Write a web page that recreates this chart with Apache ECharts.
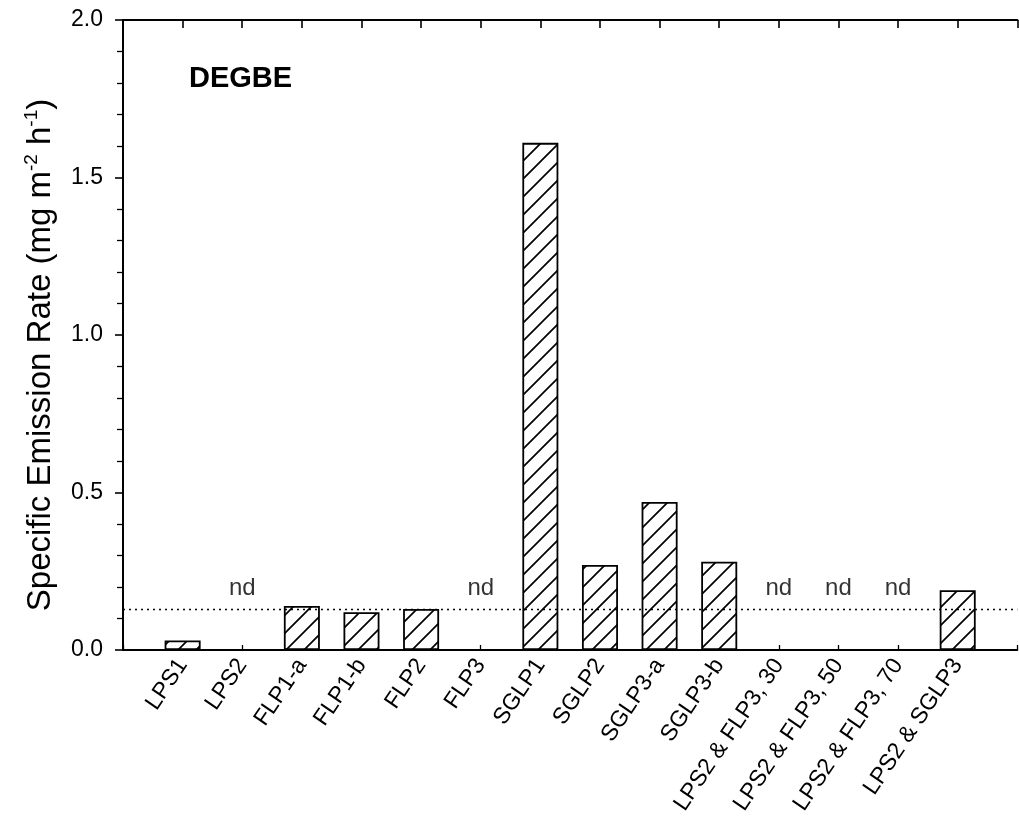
<!DOCTYPE html>
<html><head><meta charset="utf-8">
<script src="https://cdn.jsdelivr.net/npm/echarts@6/dist/echarts.min.js"></script>
<style>html,body{margin:0;padding:0;background:#fff}#c{width:1019px;height:821px}</style>
</head><body><div id="c"></div>
<script>
const categories = ['LPS1','LPS2','FLP1-a','FLP1-b','FLP2','FLP3','SGLP1','SGLP2','SGLP3-a','SGLP3-b','LPS2 & FLP3, 30','LPS2 & FLP3, 50','LPS2 & FLP3, 70','LPS2 & SGLP3'];
const emissionRates = [0.03, null, 0.14, 0.12, 0.13, null, 1.61, 0.27, 0.47, 0.28, null, null, null, 0.19];
const detectionLimit = 0.13;
const yTicks = [0.0, 0.5, 1.0, 1.5, 2.0];
const panelLabel = 'DEGBE';
const ndLabel = 'nd';

const FONT = "'Liberation Sans', Arial, sans-serif";

function hatch() {
  const s = 18, c = document.createElement('canvas');
  c.width = s; c.height = s;
  const g = c.getContext('2d');
  g.fillStyle = '#fff'; g.fillRect(0, 0, s, s);
  g.strokeStyle = '#000'; g.lineWidth = 1.7;
  g.beginPath();
  g.moveTo(-2, s + 2); g.lineTo(s + 2, -2);
  g.moveTo(-3, 3); g.lineTo(3, -3);
  g.moveTo(s - 3, s + 3); g.lineTo(s + 3, s - 3);
  g.stroke();
  return c;
}

const barData = [];
const ndData = [];
emissionRates.forEach((v, i) => {
  if (v == null) ndData.push([i, 0]); else barData.push([i, v]);
});

const chart = echarts.init(document.getElementById('c'), null, {renderer: 'canvas'});
const axisLineStyle = {color: '#000', width: 2};
const catFmt = v => (Number.isInteger(v) && v >= 0 && v < categories.length) ? categories[v] : '';

chart.setOption({
  animation: false,
  backgroundColor: '#fff',
  textStyle: {fontFamily: FONT},
  title: {
    text: panelLabel, left: 189, top: 64, padding: 0,
    textStyle: {fontFamily: FONT, fontSize: 29, fontWeight: 'bold', color: '#000'}
  },
  grid: {left: 123, right: -9, top: 20, bottom: 171},
  xAxis: [{
    type: 'value', position: 'bottom', min: -1, max: categories.length, interval: 1,
    axisLine: {show: true, onZero: false, lineStyle: axisLineStyle},
    axisTick: {show: true, inside: true, length: 5, lineStyle: {color: '#000', width: 1.3}},
    splitLine: {show: false},
    axisLabel: {rotate: 56, fontSize: 23, margin: 11, color: '#000', fontFamily: FONT, formatter: catFmt, hideOverlap: false}
  }, {
    type: 'value', position: 'top', min: -1, max: categories.length, interval: 1,
    axisLine: {show: true, onZero: false, lineStyle: axisLineStyle},
    axisTick: {show: true, inside: true, length: 8, lineStyle: {color: '#000', width: 1.6}},
    splitLine: {show: false},
    axisLabel: {show: false}
  }],
  yAxis: {
    type: 'value', min: yTicks[0], max: yTicks[yTicks.length - 1], interval: yTicks[1] - yTicks[0],
    axisLine: {show: true, onZero: false, lineStyle: axisLineStyle},
    axisTick: {show: true, inside: false, length: 8, lineStyle: {color: '#000', width: 1.6}},
    minorTick: {show: true, splitNumber: 5, length: 6, lineStyle: {color: '#000', width: 1.3}},
    splitLine: {show: false},
    axisLabel: {fontSize: 23, margin: 20, color: '#000', fontFamily: FONT, formatter: v => v.toFixed(1)},
    name: 'Specific Emission Rate (mg m{sup|-2} h{sup|-1}){gap|}',
    nameLocation: 'middle', nameGap: 57, nameRotate: 90,
    nameTextStyle: {
      fontSize: 33, color: '#000', fontFamily: FONT, lineHeight: 38,
      rich: {
        sup: {fontSize: 19, color: '#000', fontFamily: FONT, verticalAlign: 'top', lineHeight: 19},
        gap: {width: 40, lineHeight: 38}
      }
    }
  },
  series: [{
    type: 'scatter', xAxisIndex: 0, yAxisIndex: 0, z: 1,
    data: ndData, symbolSize: 1, itemStyle: {color: 'rgba(0,0,0,0)'},
    label: {show: true, position: 'top', distance: 49, formatter: ndLabel, fontSize: 24, color: '#000', fontFamily: FONT},
    markLine: {
      silent: true, symbol: 'none', animation: false,
      label: {show: false},
      lineStyle: {type: [2, 4], color: '#000', width: 1.4},
      data: [{yAxis: detectionLimit}]
    }
  }, {
    type: 'bar', xAxisIndex: 0, yAxisIndex: 0, z: 3,
    data: barData, barWidth: 36,
    itemStyle: {color: {image: hatch(), repeat: 'repeat'}, borderColor: '#000', borderWidth: 1.8}
  }]
});
</script></body></html>
